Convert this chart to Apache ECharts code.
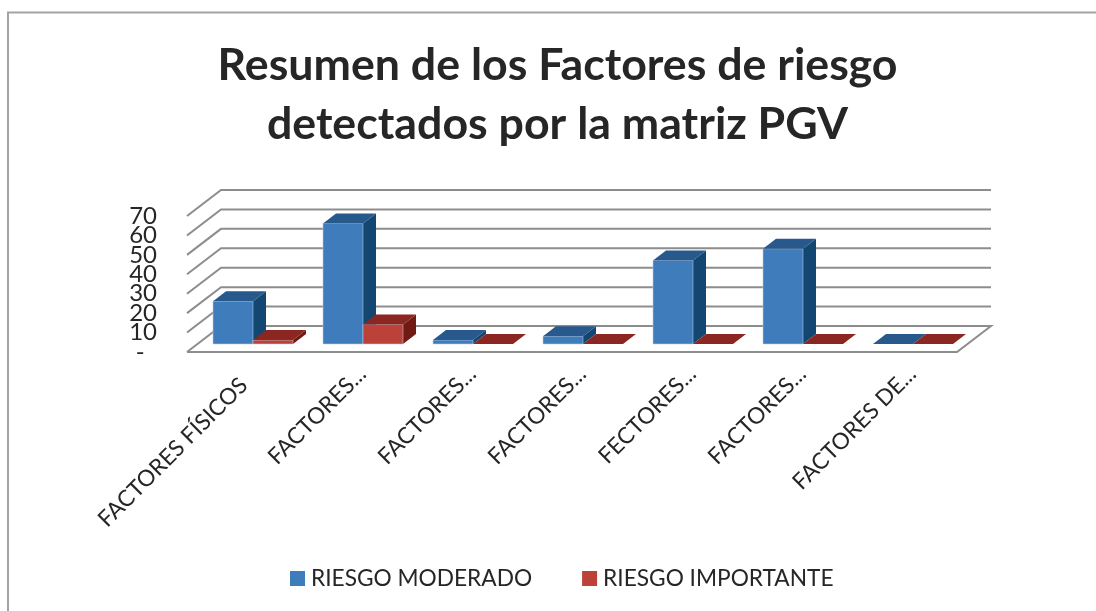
<!DOCTYPE html>
<html><head><meta charset="utf-8">
<style>html,body{margin:0;padding:0;background:#fff;overflow:hidden}#c{width:1096px;height:611px}</style>
<script src="https://cdn.jsdelivr.net/npm/echarts@6/dist/echarts.min.js"></script>
</head><body><div id="c"></div>
<script>
const categories = ['FACTORES FÍSICOS','FACTORES...','FACTORES...','FACTORES...','FECTORES...','FACTORES...','FACTORES DE...'];
const riesgoModerado = [22,62,2,4,43,49,0];
const riesgoImportante = [2,10,0,0,0,0,0];
const yTicks = [0,10,20,30,40,50,60,70];
const titleText = 'Resumen de los Factores de riesgo\ndetectados por la matriz PGV';

const WALL_DX = 34, WALL_DY = -26;   // depth of the chart box
const BAR_DX = 13, BAR_DY = -10;     // depth of one bar
const BAR_SHIFT_X = 11, BAR_SHIFT_Y = -8; // bars stand part-way into the floor
const FONT = 'Lato, "Open Sans", sans-serif';
const TXT = '#262626';

function wallItem(params, api) {
  const v = api.value(0);
  const l = api.coord([0, v]), r = api.coord([categories.length - 1, v]);
  const w = api.size([1, 0])[0];
  const x0 = l[0] - w / 2, x1 = r[0] + w / 2, y = l[1];
  const pts = v === 0
    ? [[x0,y],[x0+WALL_DX,y+WALL_DY],[x1+WALL_DX,y+WALL_DY],[x1,y],[x0,y]]
    : [[x0,y],[x0+WALL_DX,y+WALL_DY],[x1+WALL_DX,y+WALL_DY]];
  return { type:'polyline', shape:{points:pts}, style:{stroke:'#8d8d8d', lineWidth:2, fill:null}, silent:true };
}

function barRender(side, front, top, dark) {
  return function (params, api) {
    const i = api.value(0), v = api.value(1);
    const c = api.coord([i, v]), o = api.coord([i, 0]);
    const bw = 40;
    const xl = c[0] + BAR_SHIFT_X + (side < 0 ? -bw : 0), xr = xl + bw;
    const yb = o[1] + BAR_SHIFT_Y, yt = c[1] + BAR_SHIFT_Y;
    const kids = [];
    const edge = v > 0 ? 'rgba(190,205,225,0.55)' : null;
    if (v > 0) {
      kids.push({type:'polygon', shape:{points:[[xr,yt],[xr+BAR_DX,yt+BAR_DY],[xr+BAR_DX,yb+BAR_DY],[xr,yb]]}, style:{fill:dark}});
      kids.push({type:'rect', shape:{x:xl,y:yt,width:bw,height:yb-yt}, style:{fill:front, stroke:edge, lineWidth:1}});
    }
    kids.push({type:'polygon', shape:{points:[[xl,yt],[xl+BAR_DX,yt+BAR_DY],[xr+BAR_DX,yt+BAR_DY],[xr,yt]]}, style:{fill:top}});
    return {type:'group', children:kids};
  };
}

const yLabelBase = {margin:30, fontFamily:FONT, fontSize:24, color:TXT, hideOverlap:false};
const yAxisBase = {type:'value', min:yTicks[0], max:yTicks[yTicks.length-1], interval:10,
  axisLine:{show:false}, axisTick:{show:false}, splitLine:{show:false}, position:'left', offset:0};

const chart = echarts.init(document.getElementById('c'), null, {renderer:'canvas'});
chart.setOption({
  animation:false,
  backgroundColor:'#fff',
  textStyle:{fontFamily:FONT},
  title:{
    text:titleText, left:557.5, top:36, textAlign:'center', padding:0,
    textStyle:{fontFamily:FONT, fontWeight:'bold', fontSize:44.7, lineHeight:59, color:TXT}
  },
  legend:{
    data:['RIESGO MODERADO','RIESGO IMPORTANTE'], left:290, top:567, padding:0, icon:'rect',
    itemWidth:15, itemHeight:15, itemGap:50, selectedMode:false,
    textStyle:{fontFamily:FONT, fontSize:22.7, color:TXT, padding:[0,0,0,1]}
  },
  grid:{left:187, right:139, top:216, bottom:259, containLabel:false},
  xAxis:{
    type:'category',
    data:categories,
    axisLine:{show:false}, axisTick:{show:false},
    axisLabel:{interval:0, rotate:45, margin:8, verticalAlign:'top', padding:[3,0,0,0], fontFamily:FONT, fontSize:22.6, color:TXT, hideOverlap:false,
      formatter:(v,i)=> i === 0 ? '{t|'+v+'}{p| }' : v,
      rich:{
        t:{fontFamily:FONT, fontSize:22.6, color:TXT, lineHeight:27},
        p:{fontSize:22.6, width:14, lineHeight:27}
      }
    }
  },
  yAxis:[
    Object.assign({}, yAxisBase, {axisLabel:Object.assign({}, yLabelBase, {showMinLabel:false, showMaxLabel:false})}),
    Object.assign({}, yAxisBase, {axisLabel:Object.assign({}, yLabelBase, {showMinLabel:true, showMaxLabel:true,
      formatter:v => v === yTicks[0] ? '-\u00a0\u00a0' : (v === yTicks[yTicks.length-1] ? String(v) : '')})})
  ],
  graphic:[
    {type:'polyline', silent:true, shape:{points:[[8,611],[8,12.5],[1096,12.5]]},
     style:{stroke:'#a3a3a3', lineWidth:2, fill:null}}
  ],
  series:[
    {type:'custom', name:'walls', data:yTicks.map(v=>[v]), encode:{y:0}, renderItem:wallItem, silent:true, z:1, clip:false},
    {type:'custom', name:'RIESGO MODERADO', itemStyle:{color:'#3f7cbc'}, z:2, clip:false,
     data:riesgoModerado.map((v,i)=>[i,v]), encode:{x:0,y:1},
     renderItem:barRender(-1,'#3f7cbc','#28598c','#144672')},
    {type:'custom', name:'RIESGO IMPORTANTE', itemStyle:{color:'#bc4239'}, z:3, clip:false,
     data:riesgoImportante.map((v,i)=>[i,v]), encode:{x:0,y:1},
     renderItem:barRender(1,'#bc4239','#8b2720','#6f1b14')}
  ]
});
</script></body></html>
